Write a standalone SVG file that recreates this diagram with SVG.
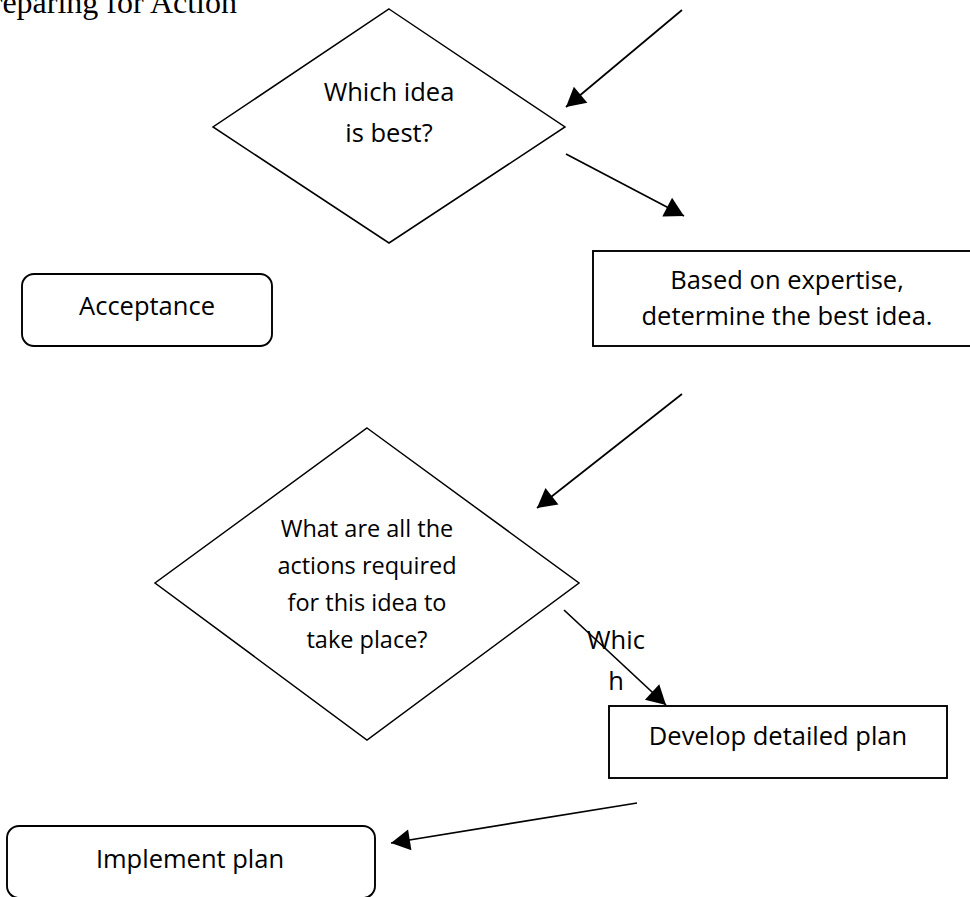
<svg xmlns="http://www.w3.org/2000/svg" width="970" height="897" viewBox="0 0 970 897">
  <style>
    .shape { fill: #ffffff; stroke: #000000; stroke-width: 1.5; }
    .box { fill: #ffffff; stroke: #000000; stroke-width: 1.9; }
    .lbl { font-family: "Open Sans", "Noto Sans", sans-serif; font-size: 25.5px; fill: #000000; text-anchor: middle; }
    .lbl-sm { font-size: 23.5px; }
    .title { font-family: "Liberation Serif", "Times New Roman", serif; font-size: 32px; fill: #000000; text-anchor: end; }
    .conn { fill: none; stroke: #000000; stroke-width: 1.7; marker-end: url(#head); }
  </style>
  <defs>
    <marker id="head" markerUnits="userSpaceOnUse" markerWidth="19" markerHeight="21" refX="19" refY="10.5" orient="auto" overflow="visible">
      <path d="M0,0 L19,10.5 L0,21 Z" fill="#000000"/>
    </marker>
  </defs>
  <rect width="970" height="897" fill="#ffffff"/>

  <!-- page heading, running off the left edge -->
  <text class="title" x="237" y="12.5">Preparing for Action</text>

  <g id="decision-best-idea">
    <polygon class="shape" points="389,9 565,127 389,243 213,127"/>
    <text class="lbl" x="389" y="101">Which idea</text>
    <text class="lbl" x="389" y="142">is best?</text>
  </g>

  <g id="acceptance">
    <rect class="box" x="22" y="274" width="250" height="72" rx="12" ry="12"/>
    <text class="lbl" x="147" y="315">Acceptance</text>
  </g>

  <g id="determine-best-idea">
    <rect class="box" x="593" y="251" width="390" height="95"/>
    <text class="lbl" x="787" y="289">Based on expertise,</text>
    <text class="lbl" x="787" y="325">determine the best idea.</text>
  </g>

  <g id="decision-actions">
    <polygon class="shape" points="367,428 579,583 367,740 155,583"/>
    <text class="lbl lbl-sm" x="367" y="537">What are all the</text>
    <text class="lbl lbl-sm" x="367" y="574">actions required</text>
    <text class="lbl lbl-sm" x="367" y="611">for this idea to</text>
    <text class="lbl lbl-sm" x="367" y="648">take place?</text>
  </g>

  <g id="develop-plan">
    <rect class="box" x="609" y="706" width="338" height="72"/>
    <text class="lbl" x="778" y="745">Develop detailed plan</text>
  </g>

  <g id="implement-plan">
    <rect class="box" x="7" y="826" width="368" height="72" rx="12" ry="12"/>
    <text class="lbl" x="190" y="868">Implement plan</text>
  </g>

  <g id="connectors">
    <line class="conn" x1="682" y1="10" x2="566" y2="107"/>
    <line class="conn" x1="566" y1="154" x2="684" y2="216"/>
    <line class="conn" x1="682" y1="394" x2="537" y2="508"/>
    <line class="conn" x1="564" y1="610" x2="666" y2="705"/>
    <line class="conn" x1="637" y1="803" x2="391" y2="843"/>
    <text class="lbl" x="616" y="649">Whic</text>
    <text class="lbl" x="616" y="690">h</text>
  </g>
</svg>
